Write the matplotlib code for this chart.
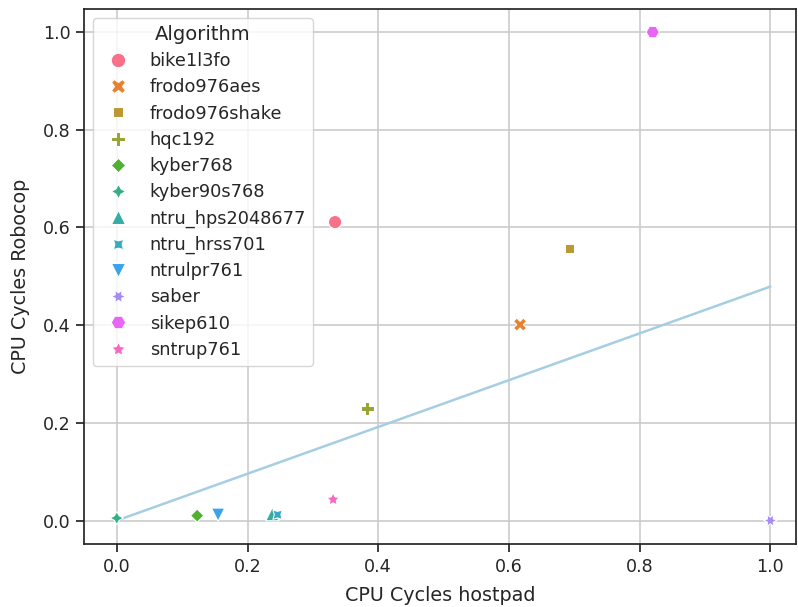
import matplotlib
matplotlib.use("Agg")
import matplotlib.pyplot as plt
import seaborn as sns
import pandas as pd

algorithms = ["bike1l3fo", "frodo976aes", "frodo976shake", "hqc192", "kyber768",
              "kyber90s768", "ntru_hps2048677", "ntru_hrss701", "ntrulpr761",
              "saber", "sikep610", "sntrup761"]
hostpad = [0.334, 0.617, 0.693, 0.383, 0.123, 0.0, 0.238, 0.246, 0.155, 1.0, 0.820, 0.331]
robocop = [0.611, 0.401, 0.557, 0.229, 0.010, 0.005, 0.013, 0.012, 0.012, 0.0, 1.0, 0.043]
fit_x = [0.0, 1.0]
fit_y = [0.0, 0.479]

df = pd.DataFrame({"Algorithm": algorithms, "CPU Cycles hostpad": hostpad,
                   "CPU Cycles Robocop": robocop})

sns.set_theme(style="ticks", font_scale=1.15)
plt.rcParams['font.family'] = ['DejaVu Sans']

fig, ax = plt.subplots(figsize=(7.98, 6.07), dpi=100)
ax.grid(True, color=".8", linewidth=1.2)
ax.set_axisbelow(True)
sns.scatterplot(data=df, x="CPU Cycles hostpad", y="CPU Cycles Robocop",
                hue="Algorithm", style="Algorithm", s=90, ax=ax, zorder=3)
ax.plot(fit_x, fit_y, color="#a6cee3", linewidth=1.8, zorder=2)
ax.set_xticks([0.0, 0.2, 0.4, 0.6, 0.8, 1.0])
ax.set_yticks([0.0, 0.2, 0.4, 0.6, 0.8, 1.0])
ax.set_xlim(-0.0505, 1.0398)
ax.set_ylim(-0.049, 1.047)
ax.yaxis.labelpad = 9
ax.xaxis.labelpad = 7.5
ax.legend(title="Algorithm", loc="upper left", fontsize=12.8, title_fontsize=14,
          labelspacing=0.46, markerscale=1.1)
fig.subplots_adjust(left=0.105, right=0.998, top=0.985, bottom=0.103)
fig.savefig("out.png", dpi=100)
